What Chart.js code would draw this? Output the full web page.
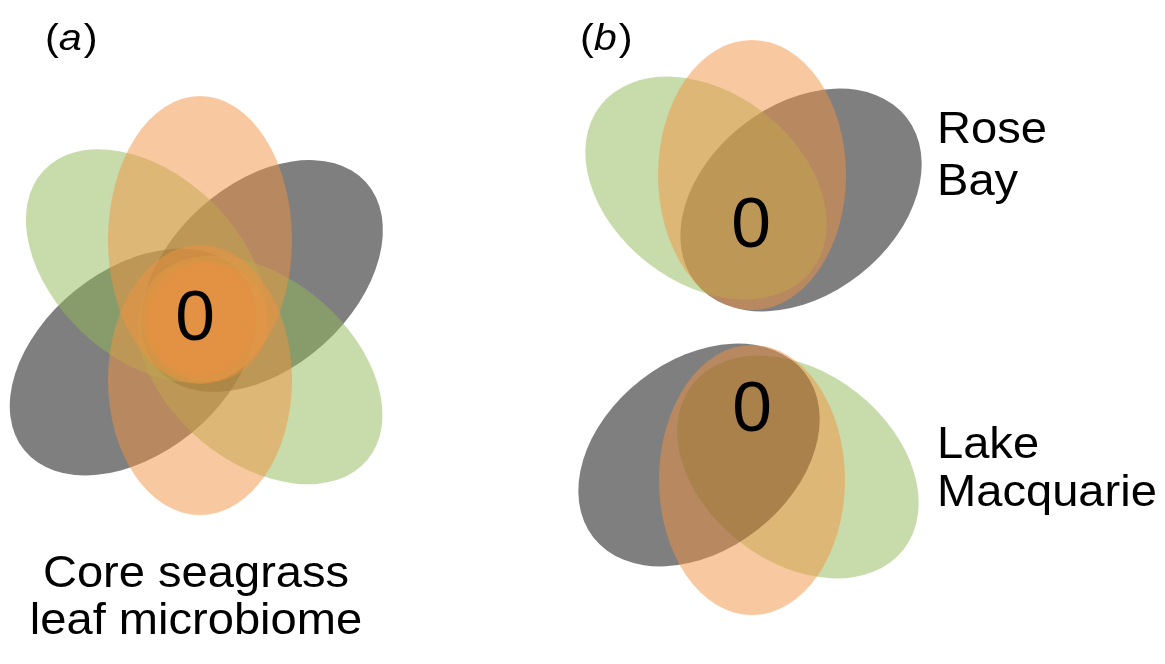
<!DOCTYPE html>
<html>
<head>
<meta charset="utf-8">
<script src="https://cdn.jsdelivr.net/npm/chart.js@4/dist/chart.umd.min.js"></script>
<style>
  html, body { margin: 0; padding: 0; background: #fff; }
  canvas { display: block; }
</style>
</head>
<body>
<canvas id="venn" width="1165" height="664"></canvas>
<script>
// labels and shared-OTU counts shown in the core of each diagram
const panelLabels = ['(a)', '(b)'];
const diagramNames = [['Core seagrass', 'leaf microbiome'], ['Rose', 'Bay'], ['Lake', 'Macquarie']];
const coreCounts = [0, 0, 0];

// set colours (semi-transparent, so overlaps blend like the figure)
const setColors = {
  grey: 'rgba(0, 0, 0, 0.5)',
  green: 'rgba(145, 185, 87, 0.5)',
  orange: 'rgba(241, 147, 65, 0.5)',
  core: 'rgba(241, 147, 65, 0.35)',
};

// ellipse layout in plot units (x to the right, y downwards); rot in degrees
// drawn in this order
const shapes = [
  // (a)
  { set: 'grey', cx: 262, cy: 276, rx: 140, ry: 92, rot: -42 },
  { set: 'grey', cx: 133, cy: 362, rx: 140, ry: 92, rot: -39 },
  { set: 'green', cx: 146, cy: 266, rx: 140, ry: 92, rot: 43 },
  { set: 'green', cx: 260, cy: 370, rx: 140, ry: 92, rot: 40 },
  { set: 'orange', cx: 200, cy: 240, rx: 92, ry: 144, rot: 0 },
  { set: 'orange', cx: 200, cy: 380, rx: 92, ry: 135, rot: 0 },
  { set: 'core', cx: 199, cy: 318, rx: 57, ry: 57, rot: 0 },
  { set: 'core', cx: 208, cy: 322, rx: 60, ry: 60, rot: 0 },
  // (b) Rose Bay
  { set: 'grey', cx: 801, cy: 200, rx: 134, ry: 95, rot: -38 },
  { set: 'green', cx: 706, cy: 188, rx: 134, ry: 95, rot: 38 },
  { set: 'orange', cx: 752, cy: 175, rx: 94, ry: 135, rot: 0 },
  // (b) Lake Macquarie
  { set: 'green', cx: 798, cy: 467, rx: 134, ry: 95, rot: 38 },
  { set: 'grey', cx: 699, cy: 455, rx: 134, ry: 95, rot: -38 },
  { set: 'orange', cx: 752, cy: 480, rx: 93, ry: 135, rot: 0 },
];

// where the texts sit (plot units)
const countPos = [[195, 321], [751, 228], [752, 412]];
const namePos = [[196, 575, 'center', 47], [937, 131, 'left', 52], [937, 446, 'left', 48]];
const panelPos = [[45, 40], [580, 40]];

const FONT = '"Liberation Sans", Arial, sans-serif';

const vennPlugin = {
  id: 'venn',
  afterDatasetsDraw(chart) {
    const { ctx, scales: { x, y } } = chart;
    const px = v => x.getPixelForValue(v);
    const py = v => y.getPixelForValue(v);
    const sx = v => Math.abs(x.getPixelForValue(v) - x.getPixelForValue(0));
    const sy = v => Math.abs(y.getPixelForValue(v) - y.getPixelForValue(0));

    // text is a little wider than Liberation Sans in the figure
    const text = (t, tx, ty, stretch) => {
      ctx.save();
      ctx.translate(tx, ty);
      ctx.scale(stretch, 1);
      ctx.fillText(t, 0, 0);
      ctx.restore();
    };

    ctx.save();
    shapes.forEach(s => {
      ctx.beginPath();
      ctx.ellipse(px(s.cx), py(s.cy), sx(s.rx), sy(s.ry), s.rot * Math.PI / 180, 0, Math.PI * 2);
      ctx.fillStyle = setColors[s.set];
      ctx.fill();
    });

    ctx.fillStyle = '#000';
    ctx.textBaseline = 'middle';
    ctx.textAlign = 'center';
    ctx.font = '70px ' + FONT;
    coreCounts.forEach((c, i) => {
      text(String(c), px(countPos[i][0]), py(countPos[i][1]), 1.02);
    });

    ctx.font = '44px ' + FONT;
    diagramNames.forEach((lines, i) => {
      const [nx, ny, align, lh] = namePos[i];
      ctx.textAlign = align;
      lines.forEach((t, j) => text(t, px(nx), py(ny + j * lh), 1.07));
    });

    // panel letters: "(" + italic letter + ")"
    ctx.textAlign = 'left';
    panelLabels.forEach((lab, i) => {
      let cx = px(panelPos[i][0]);
      const cy = py(panelPos[i][1]);
      const parts = [['(', ''], [lab.slice(1, -1), 'italic '], [')', '']];
      parts.forEach(([t, st]) => {
        ctx.font = st + '37px ' + FONT;
        text(t, cx, cy, 1.12);
        cx += ctx.measureText(t).width * 1.12 + (st ? 2 : 0);
      });
    });
    ctx.restore();
  }
};

new Chart(document.getElementById('venn'), {
  type: 'scatter',
  data: { datasets: [{ data: [], pointRadius: 0 }] },
  options: {
    responsive: false,
    animation: false,
    layout: { padding: 0 },
    plugins: { legend: { display: false }, tooltip: { enabled: false } },
    scales: {
      x: { type: 'linear', min: 0, max: 1165, display: false },
      y: { type: 'linear', min: 0, max: 664, reverse: true, display: false },
    },
  },
  plugins: [vennPlugin],
});
</script>
</body>
</html>
